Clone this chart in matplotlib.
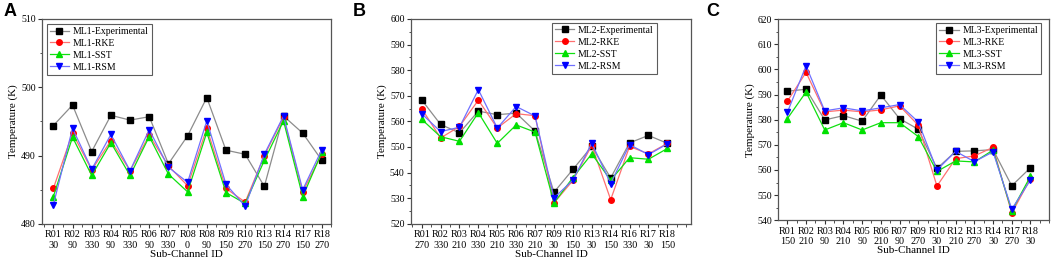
import matplotlib
matplotlib.use("Agg")
import matplotlib.pyplot as plt
from matplotlib.ticker import MultipleLocator

plt.rcParams['font.family'] = ['Liberation Serif', 'DejaVu Serif']

# ---------------- Data ----------------
a_labels = ["R01\n30", "R02\n90", "R03\n330", "R04\n90", "R05\n330", "R06\n90", "R07\n330",
            "R08\n0", "R08\n90", "R09\n150", "R10\n270", "R13\n150", "R14\n270", "R17\n150", "R18\n270"]
a_exp = [494.4, 497.4, 490.6, 495.9, 495.2, 495.7, 488.8, 492.9, 498.5, 490.8, 490.2, 485.5, 495.8, 493.3, 489.3]
a_rke = [485.2, 493.3, 487.9, 492.2, 487.8, 493.0, 488.5, 485.6, 494.0, 485.2, 483.2, 490.0, 495.6, 484.7, 490.3]
a_sst = [484.0, 492.7, 487.1, 491.9, 487.1, 492.8, 487.3, 484.7, 493.4, 484.6, 483.0, 489.3, 495.1, 484.0, 490.5]
a_rsm = [482.8, 494.0, 488.0, 493.1, 487.8, 493.8, 488.3, 486.1, 495.1, 485.8, 482.6, 490.2, 495.8, 485.0, 490.9]

b_labels = ["R01\n270", "R02\n330", "R03\n210", "R04\n330", "R05\n210", "R06\n330", "R07\n210",
            "R09\n30", "R10\n150", "R13\n30", "R14\n150", "R16\n330", "R17\n30", "R18\n150"]
b_exp = [568.4, 558.8, 555.5, 564.0, 562.6, 563.2, 556.2, 532.3, 541.2, 550.2, 537.9, 551.6, 554.5, 551.4]
b_rke = [565.0, 553.5, 558.0, 568.3, 557.4, 563.0, 562.2, 528.1, 536.9, 550.6, 529.4, 550.2, 547.3, 551.4]
b_sst = [560.8, 554.0, 552.2, 563.4, 551.4, 558.6, 555.8, 528.1, 538.0, 547.3, 537.0, 545.8, 545.2, 549.4]
b_rsm = [563.0, 556.0, 557.7, 572.4, 557.4, 565.8, 562.1, 530.1, 537.0, 551.5, 535.7, 550.9, 547.0, 551.2]

c_labels = ["R01\n150", "R02\n210", "R03\n90", "R04\n210", "R05\n90", "R06\n210", "R07\n90",
            "R09\n270", "R10\n30", "R12\n210", "R13\n270", "R14\n30", "R17\n270", "R18\n30"]
c_exp = [591.3, 592.1, 579.9, 581.6, 579.4, 589.8, 580.4, 576.2, 560.6, 567.4, 567.6, 568.1, 553.7, 560.9]
c_rke = [587.3, 598.8, 583.1, 583.8, 583.1, 583.9, 585.5, 577.8, 553.6, 564.5, 565.6, 569.0, 542.8, 556.6]
c_sst = [580.4, 591.0, 575.9, 578.8, 575.9, 578.8, 578.8, 573.3, 559.4, 563.6, 563.2, 567.9, 543.7, 557.5]
c_rsm = [582.9, 601.4, 583.5, 584.7, 583.5, 584.7, 586.0, 579.1, 560.0, 567.4, 563.3, 567.2, 544.4, 556.0]

series_names = ["Experimental", "RKE", "SST", "RSM"]

# ---------------- Styles ----------------
line_colors = ["#8c8c8c", "#ff7070", "#10e010", "#7070ff"]
marker_colors = ["#000000", "#ff0000", "#00e000", "#0000ff"]
markers = ["s", "o", "^", "v"]

fig = plt.figure(figsize=(10.59, 2.61), dpi=100)

panels = [
    dict(letter="A", prefix="ML1", labels=a_labels, data=[a_exp, a_rke, a_sst, a_rsm],
         pos=[0.0395, 0.1418, 0.2735, 0.7855], ylim=(480, 510), xlim=(0.4, 15.5),
         leg=dict(loc="upper left", bbox_to_anchor=(0.01, 0.985)), letter_x=0.003),
    dict(letter="B", prefix="ML2", labels=b_labels, data=[b_exp, b_rke, b_sst, b_rsm],
         pos=[0.388, 0.1428, 0.2645, 0.7845], ylim=(520, 600), xlim=(0.43, 15.25),
         leg=dict(loc="upper right", bbox_to_anchor=(0.885, 0.99)), letter_x=0.333),
    dict(letter="C", prefix="ML3", labels=c_labels, data=[c_exp, c_rke, c_sst, c_rsm],
         pos=[0.735, 0.156, 0.2557, 0.771], ylim=(540, 620), xlim=(0.52, 15.0),
         leg=dict(loc="upper right", bbox_to_anchor=(0.978, 0.99)), letter_x=0.667),
]

for p in panels:
    ax = fig.add_axes(p["pos"])
    x = list(range(1, len(p["labels"]) + 1))
    for vals, name, lc, mc, mk in zip(p["data"], series_names, line_colors, marker_colors, markers):
        ax.plot(x, vals, color=lc, lw=0.9, marker=mk, markersize=4.0,
                markerfacecolor=mc, markeredgecolor=mc, label=f"{p['prefix']}-{name}")
    ax.set_xlim(*p["xlim"])
    ax.set_ylim(*p["ylim"])
    ax.set_xticks(x)
    ax.set_xticklabels(p["labels"], fontsize=7.3, linespacing=1.25)
    ax.xaxis.set_minor_locator(MultipleLocator(0.5))
    ax.yaxis.set_major_locator(MultipleLocator(10))
    ax.yaxis.set_minor_locator(MultipleLocator(5))
    ax.tick_params(axis="both", which="major", direction="out", length=3, width=0.8, color="#333333")
    ax.tick_params(axis="x", which="major", pad=1.5)
    ax.tick_params(axis="y", which="major", labelsize=7, pad=1.5)
    ax.tick_params(axis="both", which="minor", direction="out", length=1.8, width=0.6, color="#333333")
    for s in ax.spines.values():
        s.set_color("#555555")
        s.set_linewidth(0.9)
    ax.set_xlabel("Sub-Channel ID", fontsize=8, labelpad=0)
    ax.set_ylabel("Temperature (K)", fontsize=8, labelpad=2)
    leg = ax.legend(fontsize=7, frameon=True, fancybox=False, edgecolor="#333333",
                    handlelength=2.0, handletextpad=0.4, borderpad=0.3, labelspacing=0.3,
                    borderaxespad=0.2, **p["leg"])
    leg.get_frame().set_linewidth(0.8)
    fig.text(p["letter_x"], 0.99, p["letter"], fontsize=13, fontweight="bold",
             family="Liberation Sans", ha="left", va="top")

fig.savefig("out.png", dpi=100)
